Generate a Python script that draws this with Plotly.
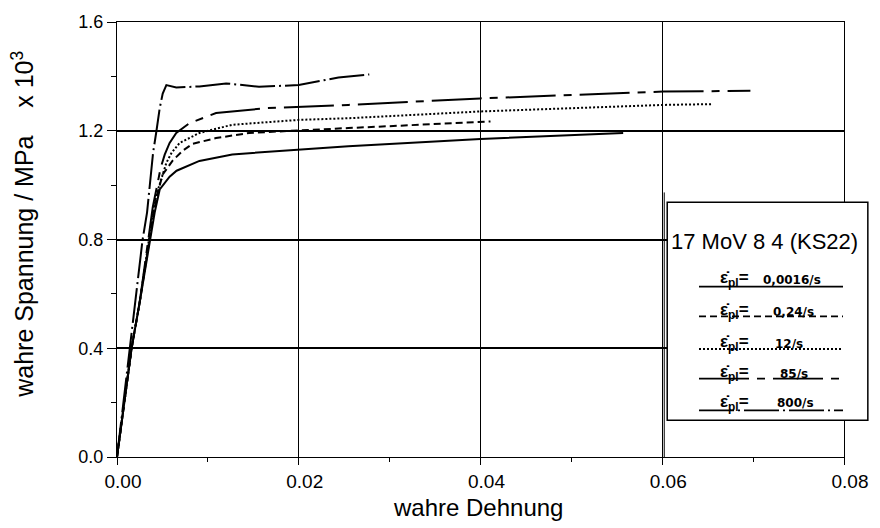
import plotly.graph_objects as go

# True stress-strain curves of 17 MoV 8 4 (KS22) at five plastic strain rates
rate_labels = ["0,0016/s", "0,24/s", "12/s", "85/s", "800/s"]

strain_0016 = [0, 0.00161, 0.00251, 0.00361, 0.00415, 0.00470, 0.00514, 0.00579,
               0.00656, 0.00776, 0.00907, 0.01268, 0.0200, 0.02546, 0.0400, 0.0484, 0.0557]
stress_0016 = [0, 0.401, 0.572, 0.798, 0.900, 0.984, 1.002, 1.031,
               1.053, 1.071, 1.089, 1.113, 1.131, 1.143, 1.170, 1.183, 1.192]

strain_024 = [0, 0.00161, 0.00251, 0.00361, 0.00404, 0.00448, 0.00503, 0.00612,
              0.00721, 0.00831, 0.0109, 0.01454, 0.0200, 0.02546, 0.0411]
stress_024 = [0, 0.401, 0.572, 0.798, 0.900, 0.973, 1.039, 1.090,
              1.126, 1.152, 1.173, 1.192, 1.200, 1.210, 1.234]

strain_12 = [0, 0.00161, 0.00251, 0.0035, 0.00404, 0.00448, 0.00492, 0.00543,
             0.00601, 0.00689, 0.00907, 0.01268, 0.0200, 0.02546, 0.0400, 0.0601, 0.0655]
stress_12 = [0, 0.401, 0.572, 0.798, 0.918, 0.980, 1.031, 1.082,
             1.119, 1.155, 1.192, 1.222, 1.240, 1.246, 1.271, 1.295, 1.298]

strain_85 = [0, 0.00161, 0.00251, 0.00339, 0.00393, 0.00437, 0.00481, 0.00525,
             0.00579, 0.00652, 0.00798, 0.0109, 0.01636, 0.02546, 0.0400, 0.0601, 0.0697]
stress_85 = [0, 0.401, 0.572, 0.798, 0.918, 0.991, 1.064, 1.112,
             1.155, 1.192, 1.228, 1.265, 1.283, 1.295, 1.319, 1.344, 1.347]

strain_800 = [0, 0.00281, 0.00331, 0.00397, 0.00434, 0.0047, 0.00503, 0.00543,
              0.00652, 0.00907, 0.0120, 0.0140, 0.01563, 0.0200, 0.02437, 0.02776]
stress_800 = [0, 0.798, 0.900, 1.119, 1.199, 1.283, 1.337, 1.368,
              1.359, 1.363, 1.374, 1.367, 1.362, 1.368, 1.396, 1.407]

strains = [strain_0016, strain_024, strain_12, strain_85, strain_800]
stresses = [stress_0016, stress_024, stress_12, stress_85, stress_800]
dashes = ["solid", "7px,4px", "2px,2px", "50px,8px,8px,8px", "35px,4px,2px,4px"]

SANS = "Liberation Sans, Arial, sans-serif"
WIDE = "DejaVu Sans, Verdana, sans-serif"

# plot area in pixels: x 117..849, y 18..457
L, R, T, B = 117, 31, 18, 71
W, H = 880, 528
PW, PH = W - L - R, H - T - B


def px(xp):
    return (xp - L) / PW


def py(yp):
    return (H - B - yp) / PH


fig = go.Figure()
for sx, sy, d, lab in zip(strains, stresses, dashes, rate_labels):
    fig.add_trace(go.Scatter(x=sx, y=sy, mode="lines", name=lab,
                             line=dict(color="black", width=2, dash=d),
                             showlegend=False))

shapes = []
annotations = []

# frame line left of the legend box
shapes.append(dict(type="line", xref="paper", yref="paper",
                   x0=px(668), x1=px(668), y0=py(457), y1=py(190),
                   line=dict(color="black", width=1)))
# legend box
bx0, bx1, by0, by1 = px(671), px(873), py(420), py(200)
shapes.append(dict(type="path", xref="paper", yref="paper",
                   path=f"M {bx0},{by0} L {bx1},{by0} L {bx1},{by1} L {bx0},{by1} Z",
                   fillcolor="white", line=dict(color="black", width=1.5)))

annotations.append(dict(xref="paper", yref="paper", x=px(769), y=py(240),
                        text="17 MoV 8 4 (KS22)", showarrow=False,
                        xanchor="center", yanchor="middle",
                        font=dict(family=SANS, size=22, color="black")))

entry_y = [277, 310, 342, 372, 402]
line_y = [285, 315, 348, 378, 410]
value_x = [765, 775, 778, 783, 780]
for lab, ey, ly, vx, d in zip(rate_labels, entry_y, line_y, value_x, dashes):
    annotations.append(dict(xref="paper", yref="paper", x=px(722), y=py(ey),
                            text="<b>\u03b5\u0307<sub>pl</sub>=</b>", showarrow=False,
                            xanchor="left", yanchor="middle",
                            font=dict(family=SANS, size=17, color="black")))
    annotations.append(dict(xref="paper", yref="paper", x=px(vx), y=py(ey + 1),
                            text="<b>" + lab + "</b>", showarrow=False,
                            xanchor="left", yanchor="middle",
                            font=dict(family=WIDE, size=12, color="black")))
    shapes.append(dict(type="line", xref="paper", yref="paper",
                       x0=px(703), x1=px(848), y0=py(ly), y1=py(ly),
                       line=dict(color="black", width=1.8, dash=d)))

# axis titles
annotations.append(dict(xref="paper", yref="paper", x=px(480), y=py(508),
                        text="wahre Dehnung", showarrow=False,
                        xanchor="center", yanchor="middle",
                        font=dict(family=SANS, size=24, color="black")))
annotations.append(dict(xref="paper", yref="paper", x=px(22), y=py(222),
                        text="wahre Spannung / MPa\u00a0\u00a0\u00a0\u00a0x 10<sup>3</sup>",
                        showarrow=False, textangle=-90,
                        xanchor="center", yanchor="middle",
                        font=dict(family=SANS, size=25, color="black")))

fig.update_layout(
    width=W, height=H,
    margin=dict(l=L, r=R, t=T, b=B, pad=0),
    paper_bgcolor="white", plot_bgcolor="white",
    shapes=shapes, annotations=annotations,
    showlegend=False,
)
fig.update_xaxes(
    range=[0, 0.08], tick0=0, dtick=0.02, tickformat=".2f",
    showline=True, mirror=True, linecolor="black", linewidth=1,
    showgrid=True, gridcolor="black", gridwidth=1,
    ticks="outside", ticklen=7, tickcolor="black", tickwidth=1,
    ticklabelshift=6,
    minor=dict(dtick=0.01, ticks="outside", ticklen=4, tickcolor="black", showgrid=False),
    tickfont=dict(family=SANS, size=19, color="black"),
    zeroline=False,
)
fig.update_yaxes(
    range=[0, 1.6], tick0=0, dtick=0.4, tickformat=".1f",
    showline=True, mirror=True, linecolor="black", linewidth=1,
    showgrid=True, gridcolor="black", gridwidth=1.6,
    ticks="outside", ticklen=9, tickcolor="black", tickwidth=1,
    minor=dict(dtick=0.2, ticks="outside", ticklen=5, tickcolor="black", showgrid=False),
    tickfont=dict(family=SANS, size=18, color="black"),
    zeroline=False,
)

fig.write_html("out.html")
